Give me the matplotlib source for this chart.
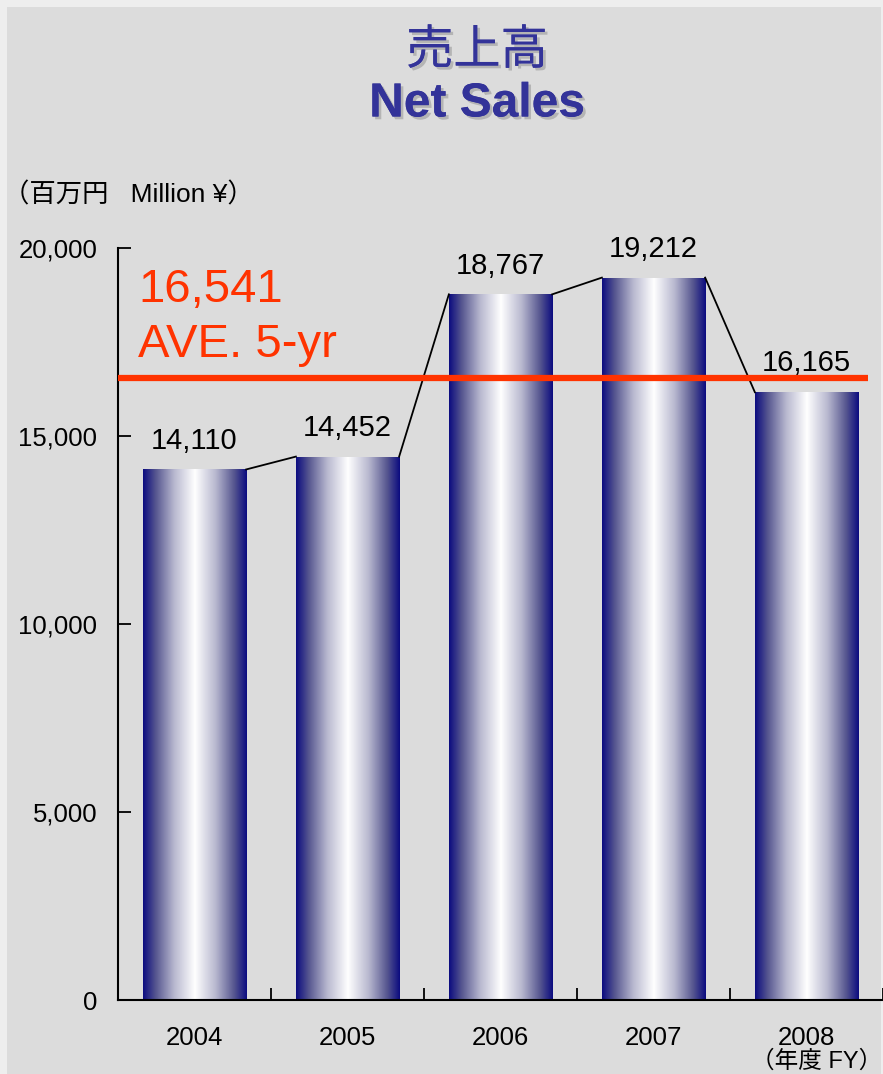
import numpy as np
import matplotlib.pyplot as plt
from matplotlib.patches import Rectangle
from matplotlib.colors import LinearSegmentedColormap
import matplotlib.patheffects as pe

years = ['2004', '2005', '2006', '2007', '2008']
sales = [14110, 14452, 18767, 19212, 16165]
average = 16541
yticks = [0, 5000, 10000, 15000, 20000]

fonts = ['Liberation Sans', 'Noto Sans CJK JP', 'DejaVu Sans']
plt.rcParams['font.family'] = fonts

W, H = 883, 1074
fig = plt.figure(figsize=(W / 100, H / 100), dpi=100)
fig.patch.set_facecolor('#eeeeee')
fig.patches.append(Rectangle((7 / W, 0), (W - 9) / W, (H - 7) / H,
                             transform=fig.transFigure, facecolor='#dcdcdc',
                             edgecolor='none', zorder=-1))

# axes: x from 118px to the right edge, y 0 at 1000px, 20000 at 248px
ax = fig.add_axes([118 / W, (H - 1000) / H, (W - 118) / W, 752 / H])
ax.set_facecolor('none')
ax.set_xlim(-0.5, -0.5 + (W - 118) / 154)
ax.set_ylim(0, 20000)

x = np.arange(len(years))
width = 0.675
bars = ax.bar(x, sales, width=width, color='none', edgecolor='none', zorder=2)

# horizontal navy-white-navy gradient inside each bar
grad_cmap = LinearSegmentedColormap.from_list(
    'bar', [(0.0, '#0c0c80'), (0.12, '#55558f'), (0.3, '#b8b8cf'),
            (0.5, '#ffffff'), (0.7, '#b8b8cf'), (0.88, '#55558f'), (1.0, '#0c0c80')])
grad = np.linspace(0, 1, 256).reshape(1, -1)
for b in bars:
    x0, w, h = b.get_x(), b.get_width(), b.get_height()
    im = ax.imshow(grad, cmap=grad_cmap, aspect='auto',
                   extent=(x0, x0 + w, 0, h), zorder=2)
    im.set_clip_path(b)

# connector lines between bar tops
for i in range(len(sales) - 1):
    ax.plot([x[i] + width / 2, x[i + 1] - width / 2], [sales[i], sales[i + 1]],
            color='black', lw=1.3, zorder=3)

# value labels
for xi, v in zip(x, sales):
    ax.annotate(f'{v:,}', (xi, v), xytext=(0, 15), textcoords='offset points',
                ha='center', va='baseline', fontsize=21, color='black', zorder=4)

# average line
ax.plot([-0.5, 4.4], [average, average], color='#ff3300', lw=4.5,
        solid_capstyle='butt', zorder=5)
ax.text(-0.37, 18560, f'{average:,}', fontsize=34, color='#ff3300',
        ha='left', va='baseline')
ax.text(-0.37, 17100, 'AVE. 5-yr', fontsize=34, color='#ff3300',
        ha='left', va='baseline')

ax.spines['top'].set_visible(False)
ax.spines['right'].set_visible(False)
for s in ('left', 'bottom'):
    ax.spines[s].set_linewidth(1.5)
ax.set_yticks(yticks)
ax.set_yticklabels([f'{t:,}' for t in yticks])
ax.set_xticks(x)
ax.set_xticklabels(years)
ax.set_xticks(np.arange(-0.5, 4.6, 1), minor=True)
ax.tick_params(axis='y', direction='in', length=9, width=1.3, labelsize=18.5, pad=15)
ax.tick_params(axis='x', which='major', length=0, labelsize=18.5, pad=19)
ax.tick_params(axis='x', which='minor', direction='in', length=9, width=1.3)

# titles and unit labels
shadow = [pe.withSimplePatchShadow(offset=(2, -2), shadow_rgbFace='#9a9a9a', alpha=0.6),
          pe.Normal()]
fig.text(477 / W, 1 - 52 / H, '売上高', fontsize=34, color='#333399',
         ha='center', va='center', path_effects=shadow)
fig.text(477 / W, 1 - 104 / H, 'Net Sales', fontsize=34.5, fontweight='bold',
         color='#333399', ha='center', va='center', path_effects=shadow)
fig.text(3 / W, 1 - 195 / H, '（百万円   Million ¥）', fontsize=19,
         ha='left', va='center')
fig.text(882 / W, 1 - 1061 / H, '（年度 FY）', fontsize=17,
         ha='right', va='center')

fig.savefig('out.png', dpi=100, facecolor=fig.get_facecolor())
